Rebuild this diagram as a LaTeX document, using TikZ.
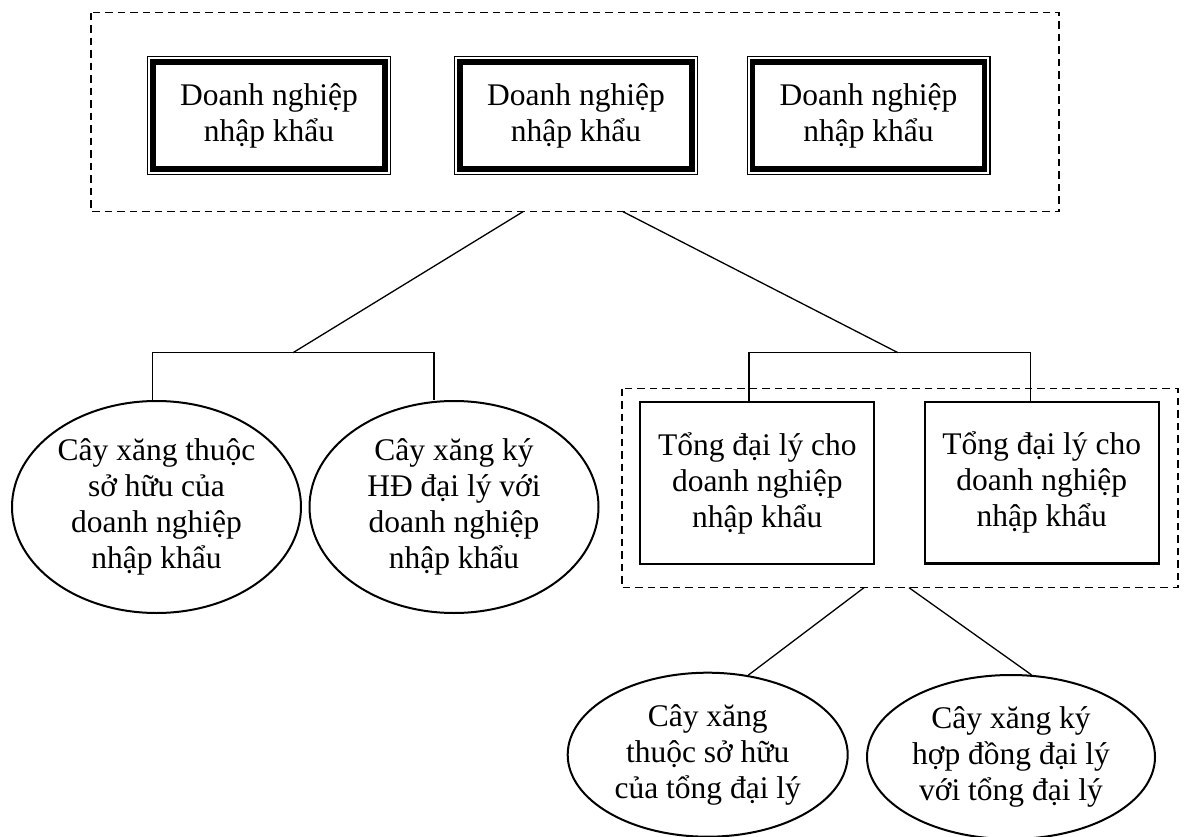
\documentclass[tikz,border=0pt]{standalone}
\usepackage{fontspec}
\setmainfont{Liberation Serif}
\usetikzlibrary{shapes.geometric}

\begin{document}
\begin{tikzpicture}[x=1pt, y=-1pt,
    font=\fontsize{31.5}{36}\selectfont,
    khung/.style={dash pattern=on 7.5pt off 5pt, line width=1.3pt},
    dnbox/.style={draw, line width=5.5pt, outer sep=0pt, inner sep=0pt,
        minimum width=232.4pt, minimum height=107.4pt, align=center},
    tdlbox/.style={draw, line width=2.3pt, inner sep=0pt,
        minimum width=234pt, minimum height=161.7pt, align=center},
    cayxang/.style={ellipse, draw, line width=2pt, inner sep=0pt, align=center},
    noi/.style={line width=1.3pt}]
    \useasboundingbox (0,0) rectangle (1186,837);

    \draw[khung] (91,12.7) rectangle (1059,211.7);
    \node[dnbox] (dn1) at (269,115.5) {Doanh nghiệp\\nhập khẩu};
    \node[dnbox] (dn2) at (576,115.5) {Doanh nghiệp\\nhập khẩu};
    \node[dnbox] (dn3) at (868.5,115.5) {Doanh nghiệp\\nhập khẩu};
    \foreach \n in {dn1,dn2,dn3}
        \draw[line width=1.2pt] ([shift={(-5.2pt,5.2pt)}]\n.north west) rectangle ([shift={(5.2pt,-5.2pt)}]\n.south east);

    \coordinate (t1) at (523,211.7);
    \coordinate (t2) at (623,211.7);
    \coordinate (gL) at (293,352.7);
    \coordinate (gL1) at (152.7,352.7);
    \coordinate (gL2) at (434,352.7);
    \coordinate (gR) at (898,352.7);
    \coordinate (gR1) at (749,352.7);
    \coordinate (gR2) at (1030.7,352.7);

    \node[cayxang, minimum width=289pt, minimum height=212pt] (e1) at (156.5,507)
        {Cây xăng thuộc\\sở hữu của\\doanh nghiệp\\nhập khẩu};
    \node[cayxang, minimum width=289pt, minimum height=212pt] (e2) at (454,507)
        {Cây xăng ký\\HĐ đại lý với\\doanh nghiệp\\nhập khẩu};

    \draw[khung] (622,388.5) rectangle (1178,587.7);
    \node[tdlbox] (td1) at (757.3,483) {Tổng đại lý cho\\doanh nghiệp\\nhập khẩu};
    \node[tdlbox] (td2) at (1041.7,482.5) {Tổng đại lý cho\\doanh nghiệp\\nhập khẩu};

    \coordinate (t3) at (864,587.7);
    \coordinate (t4) at (909,587.7);
    \node[cayxang, minimum width=280pt, minimum height=164pt] (e3) at (707.7,754.7)
        {Cây xăng\\thuộc sở hữu\\của tổng đại lý};
    \node[cayxang, minimum width=288pt, minimum height=164pt] (e4) at (1011,757)
        {Cây xăng ký\\hợp đồng đại lý\\với tổng đại lý};

    \draw[noi] (t1) -- (gL);
    \draw[noi] (t2) -- (gR);
    \draw[noi] (gL1 |- e1.north) -- (gL1) -- (gL2) -- (gL2 |- e2.north);
    \draw[noi] (gR1 |- td1.north) -- (gR1) -- (gR2) -- (gR2 |- td2.north);
    \draw[noi] (t3) -- (e3.63);
    \draw[noi] (t4) -- (e4.76);
\end{tikzpicture}
\end{document}
